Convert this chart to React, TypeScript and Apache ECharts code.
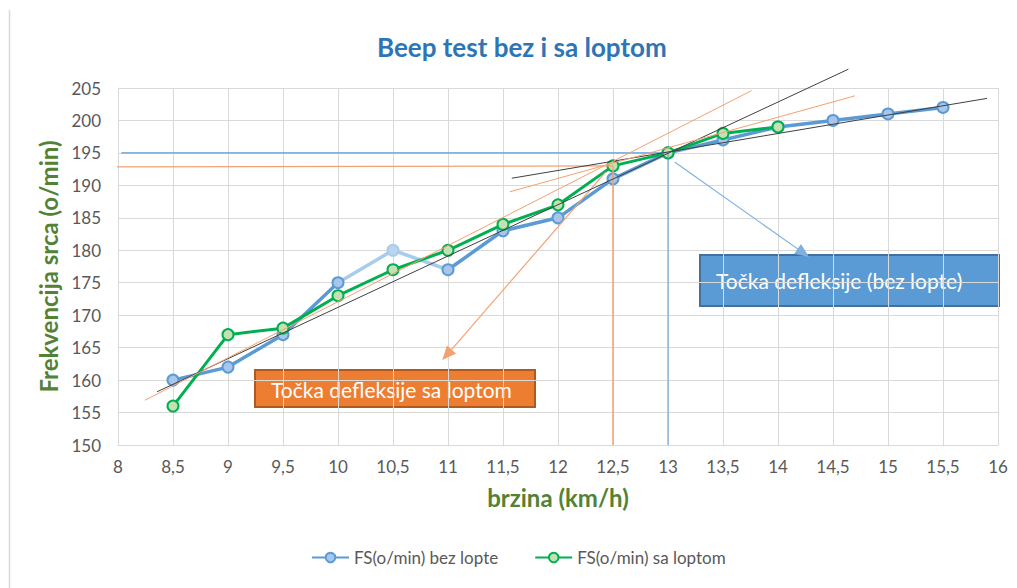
import React, { useEffect, useRef } from "react";
import * as echarts from "echarts";

// ---- data ----
const speedsBez = [8.5, 9, 9.5, 10, 10.5, 11, 11.5, 12, 12.5, 13, 13.5, 14, 14.5, 15, 15.5];
const hrBez = [160, 162, 167, 175, 180, 177, 183, 185, 191, 195, 197, 199, 200, 201, 202];
const speedsSa = [8.5, 9, 9.5, 10, 10.5, 11, 11.5, 12, 12.5, 13, 13.5, 14];
const hrSa = [156, 167, 168, 173, 177, 180, 184, 187, 193, 195, 198, 199];
const lighterSpan = [10, 11]; // part of "bez lopte" drawn in a lighter tone

const seriesNames = ["FS(o/min) bez lopte", "FS(o/min) sa loptom"];
const titleText = "Beep test bez i sa loptom";
const xName = "brzina (km/h)";
const yName = "Frekvencija srca (o/min)";
const boxBezText = "Točka defleksije (bez lopte)";
const boxSaText = "Točka defleksije sa loptom";

// annotation lines (data coordinates)
const blueHLine = [[8.03, 195], [13, 195]];
const blueVLine = [[13, 195], [13, 150]];
const orangeHLine = [[7.96, 192.85], [12.5, 193]];
const orangeVLine = [[12.5, 193], [12.5, 150]];
const blackSteep = [[8.355, 158.2], [14.64, 207.9]];
const blackShallow = [[11.58, 191.1], [15.9, 203.4]];
const orangeSteep = [[8.245, 156.9], [13.76, 204.6]];
const orangeShallow = [[11.56, 189.0], [14.7, 203.8]];
const orangeArrow = [[12.43, 192.0], [10.99, 163.9]];
const blueArrow = [[13.06, 193.6], [14.23, 179.6]];

const FONT = "Lato, 'Open Sans', sans-serif";
const BLUE = "#5b9bd5";
const GREEN = "#00b050";
const ORANGE = "#f4a172";

const fmt = (v: number) => String(v).replace(".", ",");

export default function App() {
  const ref = useRef<HTMLDivElement>(null);
  useEffect(() => {
    if (!ref.current) return;
    const chart = echarts.init(ref.current, null, { renderer: "svg" });

    const mainBez = speedsBez.map((s, i) =>
      s > lighterSpan[0] && s < lighterSpan[1] ? [s, "-"] : [s, hrBez[i]]
    );
    const lightBez = speedsBez
      .map((s, i) => ({ s, v: hrBez[i] }))
      .filter((d) => d.s >= lighterSpan[0] && d.s <= lighterSpan[1])
      .map((d) => ({
        value: [d.s, d.v],
        symbol: d.s === lighterSpan[0] || d.s === lighterSpan[1] ? "none" : "circle",
      }));

    const annot = (data: number[][], color: string, width = 1, z = 5) => ({
      type: "line",
      data,
      showSymbol: false,
      symbol: "none",
      clip: false,
      silent: true,
      z,
      lineStyle: { color, width },
      tooltip: { show: false },
    });

    const arrowSeries = {
      type: "line",
      data: [],
      z: 6,
      markLine: {
        silent: true,
        symbol: ["none", "triangle"],
        symbolSize: [12, 14],
        label: { show: false },
        animation: false,
        data: [
          [
            { coord: orangeArrow[0], lineStyle: { color: ORANGE, width: 1.2, type: "solid" }, itemStyle: { color: "#ed7d31" } },
            { coord: orangeArrow[1] },
          ],
          [
            { coord: blueArrow[0], lineStyle: { color: "#7fb0e0", width: 1.2, type: "solid" }, itemStyle: { color: BLUE } },
            { coord: blueArrow[1] },
          ],
        ],
      },
    };

    chart.setOption({
      animation: false,
      backgroundColor: "#ffffff",
      textStyle: { fontFamily: FONT },
      title: {
        text: titleText,
        left: 372,
        top: 29,
        textStyle: { color: "#2e75b6", fontSize: 26, fontWeight: "bold", fontFamily: FONT },
      },
      grid: { left: 118, right: 19, top: 88, bottom: 143 },
      legend: {
        data: seriesNames,
        bottom: 17,
        left: 306,
        itemWidth: 37,
        itemHeight: 12,
        itemGap: 36,
        textStyle: { color: "#595959", fontSize: 17, fontFamily: FONT },
      },
      xAxis: {
        type: "value",
        min: 8,
        max: 16,
        interval: 0.5,
        name: xName,
        nameLocation: "middle",
        nameGap: 40,
        nameTextStyle: { color: "#548235", fontSize: 24, fontWeight: "bold", fontFamily: FONT },
        axisLine: { show: true, lineStyle: { color: "#d9d9d9" } },
        axisTick: { show: false },
        axisLabel: { color: "#595959", fontSize: 17, margin: 13, formatter: fmt },
        splitLine: { show: true, lineStyle: { color: "#d9d9d9" } },
      },
      yAxis: {
        type: "value",
        min: 150,
        max: 205,
        interval: 5,
        name: yName,
        nameLocation: "middle",
        nameGap: 54,
        nameTextStyle: { color: "#548235", fontSize: 24, fontWeight: "bold", fontFamily: FONT },
        axisLine: { show: true, lineStyle: { color: "#d9d9d9" } },
        axisTick: { show: false },
        axisLabel: { color: "#595959", fontSize: 17, margin: 17, formatter: fmt },
        splitLine: { show: true, lineStyle: { color: "#d9d9d9" } },
      },
      series: [
        {
          name: seriesNames[0],
          type: "line",
          data: mainBez,
          z: 3,
          symbol: "circle",
          symbolSize: 11,
          connectNulls: false,
          lineStyle: { color: BLUE, width: 3.5 },
          itemStyle: { color: "#a9c5ea", borderColor: BLUE, borderWidth: 2 },
        },
        {
          type: "line",
          data: lightBez,
          z: 2,
          symbol: "circle",
          symbolSize: 11,
          lineStyle: { color: "#a9cbec", width: 3.5 },
          itemStyle: { color: "#bcd5ef", borderColor: "#a9cbec", borderWidth: 2 },
        },
        {
          name: seriesNames[1],
          type: "line",
          data: speedsSa.map((s, i) => [s, hrSa[i]]),
          z: 4,
          symbol: "circle",
          symbolSize: 11,
          lineStyle: { color: GREEN, width: 3 },
          itemStyle: { color: "#c5e0b4", borderColor: GREEN, borderWidth: 2 },
        },
        annot(blueHLine, BLUE, 1.2),
        annot(blueVLine, BLUE, 1),
        annot(orangeHLine, ORANGE, 1.2),
        annot(orangeVLine, ORANGE, 1.5),
        annot(blackSteep, "#404040", 1),
        annot(blackShallow, "#404040", 1),
        annot(orangeSteep, ORANGE, 1),
        annot(orangeShallow, ORANGE, 1),
        arrowSeries,
      ],
      graphic: [
        {
          type: "line",
          shape: { x1: 9.5, y1: 10, x2: 9.5, y2: 588 },
          style: { stroke: "#d9d9d9", lineWidth: 1.5 },
        },
        {
          type: "group",
          left: 699,
          top: 254,
          z: 100,
          children: [
            {
              type: "rect",
              shape: { x: 0, y: 0, width: 299, height: 51 },
              style: { fill: BLUE, stroke: "#41719c", lineWidth: 2 },
            },
            {
              type: "text",
              x: 16,
              y: 25,
              style: { text: boxBezText, fill: "#ffffff", fontSize: 21, fontFamily: FONT, verticalAlign: "middle" },
            },
          ],
        },
        {
          type: "group",
          left: 254,
          top: 369,
          z: 100,
          children: [
            {
              type: "rect",
              shape: { x: 0, y: 0, width: 280, height: 37 },
              style: { fill: "#ed7d31", stroke: "#ae5a21", lineWidth: 2 },
            },
            {
              type: "text",
              x: 16,
              y: 19,
              style: { text: boxSaText, fill: "#ffffff", fontSize: 21, fontFamily: FONT, verticalAlign: "middle" },
            },
          ],
        },
      ],
    });
    return () => chart.dispose();
  }, []);
  return (
    <div
      ref={ref}
      style={{ position: "fixed", left: 0, top: 0, width: 1017, height: 588, background: "#fff" }}
    />
  );
}
